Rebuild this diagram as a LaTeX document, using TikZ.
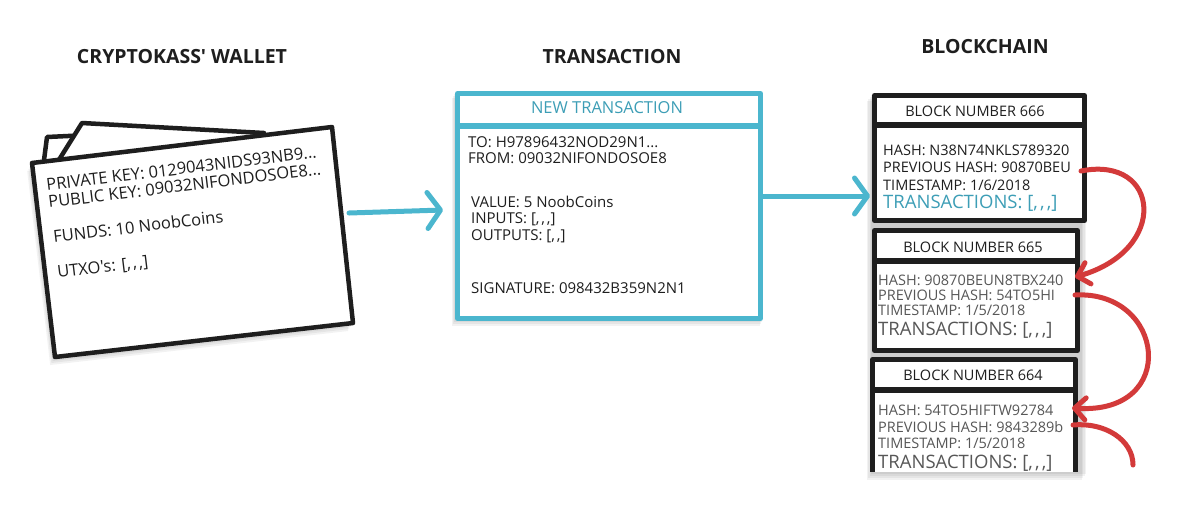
\documentclass[tikz,border=0pt]{standalone}
\usepackage{fontspec}
\setmainfont{Open Sans}[Ligatures=TeXOff]
\usetikzlibrary{arrows.meta}
\definecolor{ink}{HTML}{1E1E1E}
\definecolor{tblue}{HTML}{4BB6CE}
\definecolor{tbtext}{HTML}{3D9EB6}
\definecolor{rred}{HTML}{D33A3A}
\definecolor{gtext}{HTML}{575757}
\newcommand{\cmsep}{\kern0.12em}
\begin{document}
\begin{tikzpicture}[x=1pt,y=-1pt, line join=round, line cap=round,
 title/.style={font=\bfseries\fontsize{19.5}{21}\selectfont, text=ink, inner sep=0, anchor=base},
 wtext/.style={font=\fontsize{16.5}{17}\selectfont, text=ink, inner sep=0, anchor=base west, rotate=7},
 ttext/.style={font=\fontsize{15}{17}\selectfont, text=ink, inner sep=0, anchor=base west},
 btext/.style={font=\fontsize{14.5}{17}\selectfont, text=ink, inner sep=0, anchor=base west},
 gbtext/.style={btext, text=gtext},
 bigtx/.style={font=\fontsize{18.5}{20}\selectfont, inner sep=0, anchor=base west},
 bhead/.style={font=\fontsize{14.5}{16}\selectfont, text=ink, inner sep=0, anchor=base},
 card/.style={draw=ink, line width=4.5pt, fill=white},
 txbox/.style={draw=tblue, line width=5pt, fill=white, rectangle, inner sep=0},
 blockbox/.style={draw=ink, line width=5pt, fill=white, rectangle, inner sep=0},
 flow/.style={draw=tblue, line width=5pt, -{Straight Barb[round, length=13pt, width=36pt]}},
 link/.style={draw=rred, line width=5pt, -{Straight Barb[round, length=11pt, width=22pt]}},
 shade/.style={fill=black, opacity=0.05},
]
\useasboundingbox (0,0) rectangle (1182,520);
\fill[white] (0,0) rectangle (1182,520);

% titles
\node[title] (t1) at (182,63) {CRYPTOKASS' WALLET};
\node[title] (t2) at (612,63) {TRANSACTION};
\node[title] (t3) at (985,53) {BLOCKCHAIN};

% wallet shadows
\foreach \s in {2,4,6,8}
  \fill[shade] ([shift={(-\s*0.6,\s)}]32,163) -- ([shift={(-\s*0.6,\s)}]332,127) -- ([shift={(-\s*0.6,\s)}]353,323) -- ([shift={(-\s*0.6,\s)}]55,357) -- cycle;
% wallet cards
\draw[card] (47,137) -- (110,134) -- (110,250) -- (43,168) -- cycle;
\draw[card] (82,123) -- (264,133) -- (262,250) -- (57,163) -- cycle;
\draw[card] (32,163) -- (332,127) -- (353,323) -- (55,357) -- cycle;
\node[wtext] (w1) at (47,191) {PRIVATE KEY: 0129043NIDS93NB9...};
\node[wtext] (w2) at (49,208) {PUBLIC KEY: 09032NIFONDOSOE8...};
\node[wtext] (w3) at (54,243) {FUNDS: 10 NoobCoins};
\node[wtext] (w4) at (58,278) {UTXO's: [,\cmsep,\cmsep,]};
\coordinate (walletR) at (349,213);

% transaction
\foreach \s in {2,4,6}
  \fill[shade] (455-\s*0.5,92+\s) rectangle (763-\s*0.5,320+\s);
\node[txbox, minimum width=303pt, minimum height=225pt] (txbox) at (609,206) {};
\draw[tblue, line width=6pt, line cap=butt] (457.5,126) -- (760.5,126);
\node[font=\fontsize{16.5}{18}\selectfont, text=tbtext, inner sep=0, anchor=base] (txh) at (607,113) {NEW TRANSACTION};
\node[ttext] (x1) at (468,147) {TO: H97896432NOD29N1...};
\node[ttext] (x2) at (468,163) {FROM: 09032NIFONDOSOE8};
\node[ttext] (x3) at (471,207) {VALUE: 5 NoobCoins};
\node[ttext] (x4) at (471,223) {INPUTS: [,\cmsep,\cmsep,]};
\node[ttext] (x5) at (471,240) {OUTPUTS: [,\cmsep,]};
\node[ttext] (x6) at (471,293) {SIGNATURE: 098432B359N2N1};
\coordinate (txin) at (443,210);
\draw[flow] (walletR) -- (txin);

% blockchain shadow
\foreach \s in {2,4,6,8}
  \fill[shade] (872-\s*0.6,93+\s) rectangle (1087-\s*0.6,472+\s);

% block 666
\node[blockbox, minimum width=210pt, minimum height=125pt] (b666) at (979.5,158) {};
\draw[ink, line width=6pt, line cap=butt] (874.5,125) -- (1084.5,125);
\node[bhead] (h666) at (975,116) {BLOCK NUMBER 666};
\node[btext] (a1) at (883,155) {HASH: N38N74NKLS789320};
\node[btext] (a2) at (883,172) {PREVIOUS HASH: 90870BEU};
\node[btext] (a3) at (883,190) {TIMESTAMP: 1/6/2018};
\node[bigtx, text=tbtext] (a4) at (883,208) {TRANSACTIONS: [,\cmsep,\cmsep,]};

% block 665
\node[blockbox, minimum width=203pt, minimum height=120pt] (b665) at (976,290.5) {};
\draw[ink, line width=6pt, line cap=butt] (874.5,261) -- (1077.5,261);
\node[bhead] (h665) at (973,252) {BLOCK NUMBER 665};
\node[gbtext] (c1) at (878,285) {HASH: 90870BEUN8TBX240};
\node[gbtext] (c2) at (878,300) {PREVIOUS HASH: 54TO5HI};
\node[gbtext] (c3) at (878,315) {TIMESTAMP: 1/5/2018};
\node[bigtx, text=gtext] (c4) at (878,335) {TRANSACTIONS: [,\cmsep,\cmsep,]};

% block 664 (open bottom)
\node[fill=white, minimum width=203pt, minimum height=112.5pt, inner sep=0] (b664) at (974,415.75) {};
\draw[ink, line width=5pt, line cap=butt] (872.5,472) -- (872.5,359.5) -- (1075.5,359.5) -- (1075.5,472);
\draw[ink, line width=6pt, line cap=butt] (872.5,390) -- (1075.5,390);
\node[bhead] (h664) at (973,380) {BLOCK NUMBER 664};
\node[gbtext] (d1) at (878,415) {HASH: 54TO5HIFTW92784};
\node[gbtext] (d2) at (878,432) {PREVIOUS HASH: 9843289b};
\node[gbtext] (d3) at (878,448) {TIMESTAMP: 1/5/2018};
\node[bigtx, text=gtext] (d4) at (878,468) {TRANSACTIONS: [,\cmsep,\cmsep,]};

\coordinate (chainin) at (870,196);
\draw[flow] ([yshift=10pt]txbox.east) -- (chainin);

% hash links
\coordinate (p666) at (1081,171);
\coordinate (q665) at (1075,277);
\coordinate (p665) at (1075,295);
\coordinate (q664) at (1072,408);
\coordinate (p664) at (1073,425);
\coordinate (loose) at (1133,465);
\draw[link] (p666) .. controls (1160,155) and (1170,250) .. (q665);
\draw[link] (p665) .. controls (1165,290) and (1180,415) .. (q664);
\draw[rred, line width=5pt] (p664) .. controls (1105,422) and (1133,440) .. (loose);
\end{tikzpicture}
\end{document}
